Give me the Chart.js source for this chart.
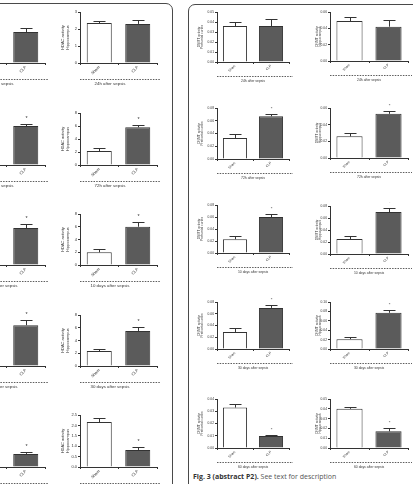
<!DOCTYPE html>
<html>
<head>
<meta charset="utf-8">
<script src="https://cdn.jsdelivr.net/npm/chart.js@4.4.1/dist/chart.umd.min.js"></script>
<style>
    body { margin: 0; width: 413px; height: 484px; overflow: hidden; background: #fff; position: relative; font-family: "Open Sans", sans-serif; }
    canvas { position: absolute; }
    .panel { position: absolute; border: 1.5px solid #4a4a4a; border-radius: 7px; }
    .caption { position: absolute; left: 193px; top: 472px; font-size: 7px; color: #555; white-space: nowrap; }
    .caption b { color: #333; }
</style>
</head>
<body>
<div class="panel" style="left:-20px; top:3px; width:191px; height:520px;"></div>
<div class="panel" style="left:188px; top:4px; width:260px; height:520px;"></div>
<div class="caption"><b>Fig. 3 (abstract P2).</b> See text for description</div>

<script>
const groups = ['Sham', 'CLP'];
const timepoints = ['24h after sepsis', '72h after sepsis', '10 days after sepsis', '30 days after sepsis', '60 days after sepsis'];
const significant = [false, true, true, true, true];

// HDAC activity, prefrontal cortex (column cut by the left edge)
const hdacCortexMean = [[2.35, 1.82], [2.3, 6.0], [2.35, 5.8], [2.35, 6.4], [1.9, 0.63]];
const hdacCortexSem = [[0.15, 0.24], [0.2, 0.3], [0.2, 0.6], [0.2, 0.8], [0.1, 0.09]];
// HDAC activity, hippocampus
const hdacHippoMean = [[2.35, 2.3], [2.15, 5.8], [2.0, 6.0], [2.35, 5.5], [2.16, 0.82]];
const hdacHippoSem = [[0.12, 0.23], [0.4, 0.4], [0.5, 0.7], [0.3, 0.6], [0.2, 0.14]];
// DNMT activity, prefrontal cortex
const dnmtCortexMean = [[0.036, 0.036], [0.033, 0.067], [0.023, 0.060], [0.029, 0.070], [0.033, 0.0098]];
const dnmtCortexSem = [[0.004, 0.007], [0.006, 0.004], [0.005, 0.005], [0.007, 0.005], [0.003, 0.0008]];
// DNMT activity, hippocampus
const dnmtHippoMean = [[0.049, 0.042], [0.026, 0.053], [0.025, 0.070], [0.021, 0.077], [0.040, 0.017]];
const dnmtHippoSem = [[0.005, 0.008], [0.004, 0.003], [0.005, 0.007], [0.005, 0.006], [0.002, 0.003]];

// y axis ranges for each time point
const hdacMax = [3, 8, 8, 8, 2.5];
const hdacStep = [1, 2, 2, 2, 0.5];
const hdacDecimals = [0, 0, 0, 0, 1];
const dnmtCortexMax = [0.05, 0.08, 0.08, 0.08, 0.04];
const dnmtCortexStep = [0.01, 0.02, 0.02, 0.02, 0.01];
const dnmtHippoMax = [0.06, 0.06, 0.08, 0.10, 0.05];
const dnmtHippoStep = [0.02, 0.02, 0.02, 0.02, 0.01];

const panels = [
    { mean: hdacCortexMean, sem: hdacCortexSem, max: hdacMax, step: hdacStep, dec: hdacDecimals, title: ['HDAC activity', 'Prefrontal cortex'] },
    { mean: hdacHippoMean, sem: hdacHippoSem, max: hdacMax, step: hdacStep, dec: hdacDecimals, title: ['HDAC activity', 'Hippocampus'] },
    { mean: dnmtCortexMean, sem: dnmtCortexSem, max: dnmtCortexMax, step: dnmtCortexStep, dec: [2, 2, 2, 2, 2], title: ['DNMT activity', 'Prefrontal cortex'] },
    { mean: dnmtHippoMean, sem: dnmtHippoSem, max: dnmtHippoMax, step: dnmtHippoStep, dec: [2, 2, 2, 2, 2], title: ['DNMT activity', 'Hippocampus'] }
];

// page layout (pixels)
const colLeft = [-32, 80, 217, 330];
const colWidth = [77, 77, 72, 78];
const axisBox = [20, 20, 22, 18];
const titlePad = [1, 1, 2, 3];
const fontSize = [4, 4, 3.3, 3.3];
const labelShift = [30, 30, 36, 39];
const plotTop = [
    [12, 113, 214, 315, 415],
    [12, 113, 214, 315, 415],
    [12, 108, 205, 302, 399],
    [12, 108, 206, 302, 399]
];
const plotBottom = [
    [63, 165, 265, 366, 467],
    [63, 165, 265, 366, 467],
    [62, 159, 253, 349, 448],
    [61, 158, 254, 349, 448]
];
const padTop = 4, padRight = 6, axisHeight = 28;

Chart.defaults.color = '#333';
Chart.defaults.font.family = 'Arial, "Liberation Sans", sans-serif';

// error bars, significance star, dashed rule and time label
const extras = {
    id: 'extras',
    afterDatasetsDraw(chart, args, o) {
        const ctx = chart.ctx;
        const y = chart.scales.y;
        const values = chart.data.datasets[0].data;
        ctx.save();
        ctx.strokeStyle = '#333';
        ctx.fillStyle = '#333';
        ctx.lineWidth = 1;
        chart.getDatasetMeta(0).data.forEach((bar, i) => {
            const yTop = Math.round(y.getPixelForValue(values[i] + o.sem[i])) + 0.5;
            const x = Math.round(bar.x) + 0.5;
            ctx.beginPath();
            ctx.moveTo(x, bar.y);
            ctx.lineTo(x, yTop);
            ctx.moveTo(x - 6, yTop);
            ctx.lineTo(x + 6, yTop);
            ctx.stroke();
            if (i === 1 && o.star) {
                ctx.font = (o.size + 1) + 'px Arial';
                ctx.textAlign = 'center';
                ctx.textBaseline = 'middle';
                ctx.fillText('*', x, yTop - 6);
            }
        });
        const a = chart.chartArea;
        const yd = Math.round(a.bottom + o.dashGap) + 0.5;
        ctx.lineWidth = 0.8;
        ctx.setLineDash([1.5, 1.2]);
        ctx.beginPath();
        ctx.moveTo(a.left, yd);
        ctx.lineTo(a.right + 4, yd);
        ctx.stroke();
        ctx.setLineDash([]);
        ctx.font = o.size + 'px Arial';
        ctx.textAlign = 'center';
        ctx.textBaseline = 'middle';
        ctx.fillText(o.label, a.left + o.shift, a.bottom + o.labelGap);
        ctx.restore();
    }
};

panels.forEach((p, c) => {
    timepoints.forEach((label, r) => {
        const plotH = plotBottom[c][r] - plotTop[c][r];
        const canvas = document.createElement('canvas');
        const w = axisBox[c] + colWidth[c] + padRight;
        const h = padTop + plotH + axisHeight;
        canvas.width = w;
        canvas.height = h;
        canvas.style.left = (colLeft[c] - axisBox[c]) + 'px';
        canvas.style.top = (plotTop[c][r] - padTop) + 'px';
        canvas.style.width = w + 'px';
        canvas.style.height = h + 'px';
        document.body.appendChild(canvas);

        const fs = fontSize[c];
        const dnmt = c >= 2;
        new Chart(canvas, {
            type: 'bar',
            data: {
                labels: groups,
                datasets: [{
                    data: p.mean[r],
                    backgroundColor: ['#ffffff', '#5b5b5b'],
                    borderColor: '#333',
                    borderWidth: 1,
                    barPercentage: 1,
                    categoryPercentage: dnmt ? 0.67 : 0.65
                }]
            },
            options: {
                responsive: false,
                animation: false,
                devicePixelRatio: 1,
                layout: { padding: { top: padTop, right: padRight, left: 0, bottom: 0 } },
                plugins: {
                    legend: { display: false },
                    tooltip: { enabled: false },
                    extras: {
                        sem: p.sem[r],
                        star: significant[r],
                        label: label,
                        size: dnmt ? 3.4 : 4.4,
                        shift: labelShift[c],
                        dashGap: dnmt ? 14 : 16,
                        labelGap: dnmt ? 19 : 21
                    }
                },
                scales: {
                    x: {
                        afterFit: (s) => { s.height = axisHeight; },
                        grid: { display: true, drawOnChartArea: false, tickLength: 2, color: '#333' },
                        border: { color: '#333', width: 1 },
                        ticks: { minRotation: 45, maxRotation: 45, padding: 0, autoSkip: false, font: { size: fs } }
                    },
                    y: {
                        min: 0,
                        max: p.max[r],
                        afterFit: (s) => { s.width = axisBox[c]; },
                        grid: { display: true, drawOnChartArea: false, tickLength: 2, color: '#333' },
                        border: { color: '#333', width: 1 },
                        ticks: {
                            stepSize: p.step[r],
                            autoSkip: false,
                            padding: 1,
                            font: { size: fs },
                            callback: (v) => Number(v).toFixed(p.dec[r])
                        },
                        title: {
                            display: true,
                            text: p.title,
                            padding: { top: titlePad[c], bottom: 0 },
                            font: { size: fs, lineHeight: 1.1 }
                        }
                    }
                }
            },
            plugins: [extras]
        });
    });
});
</script>
</body>
</html>
